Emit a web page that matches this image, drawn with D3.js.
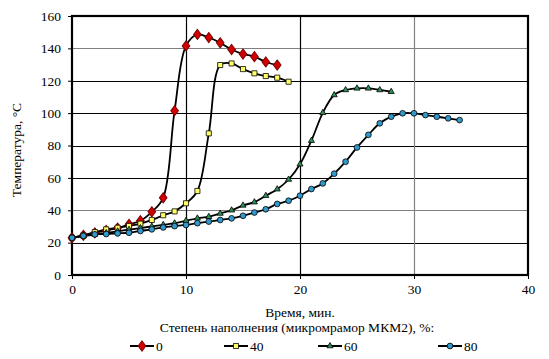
<!DOCTYPE html>
<html><head><meta charset="utf-8">
<script src="https://cdn.jsdelivr.net/npm/d3@7"></script>
<style>body{margin:0;background:#fff}svg{display:block;font-family:"Liberation Serif","Times New Roman","DejaVu Serif",serif}text{font-family:"Liberation Serif","Times New Roman","DejaVu Serif",serif}</style>
</head><body><svg id="c" width="549" height="359"></svg>
<script>
const xTicks = [0, 10, 20, 30, 40];
const yTicks = [0, 20, 40, 60, 80, 100, 120, 140, 160];
const seriesNames = ["0", "40", "60", "80"];
const t0 = [0,1,2,3,4,5,6,7,8,9,10,11,12,13,14,15,16,17,18];
const v0 = [23,24.5,26,27.5,29,31.3,33.5,39,47.7,101.5,141.5,148.6,146.7,143.4,139.3,136.5,134.9,131.6,129.7];
const t40 = [0,1,2,3,4,5,6,7,8,9,10,11,12,13,14,15,16,17,18,19];
const v40 = [23,24.5,26.5,28.2,29.2,30.3,31.7,34,36.9,39.3,44.3,51.9,87.5,129.7,130.7,127.2,124.6,122.9,121.9,119.4];
const t60 = [0,1,2,3,4,5,6,7,8,9,10,11,12,13,14,15,16,17,18,19,20,21,22,23,24,25,26,27,28];
const v60 = [23,24,25,26,27,28,29,30,31,32,33.5,35,36,38,40,43,45,49,53,59,68.4,83,100.2,111.2,114.3,115.3,115.3,114.3,113.2];
const t80 = [0,1,2,3,4,5,6,7,8,9,10,11,12,13,14,15,16,17,18,19,20,21,22,23,24,25,26,27,28,29,30,31,32,33,34];
const v80 = [23,24.2,25.1,25.3,25.7,26.1,27.2,28.2,29.4,30.2,30.9,32,33,34,35,36.6,38.6,40.6,43.9,45.9,49,53.1,56.6,62.6,70,78.8,86.6,93.7,97.8,99.9,99.9,98.8,97.8,96.8,95.7];

const series = [
  {name: seriesNames[0], t: t0, v: v0, fill: "#d40000", shape: "diamond"},
  {name: seriesNames[1], t: t40, v: v40, fill: "#ffff66", shape: "square"},
  {name: seriesNames[2], t: t60, v: v60, fill: "#2f8f5a", shape: "triangle"},
  {name: seriesNames[3], t: t80, v: v80, fill: "#3399cc", shape: "circle"}
];

const FONT = '"Liberation Serif", "Times New Roman", "DejaVu Serif", serif';
const svg = d3.select("#c");
const L = 72, R = 528, T = 16, B = 275;
const x = d3.scaleLinear().domain([0, 40]).range([L, R]);
const y = d3.scaleLinear().domain([0, 160]).range([B, T]);

// grid
const grayY = [140, 40], grayX = [30];
svg.append("g").selectAll("line").data(yTicks.filter(d => d > 0 && d < 160)).join("line")
  .attr("x1", L).attr("x2", R).attr("y1", d => Math.round(y(d)) + 0.5).attr("y2", d => Math.round(y(d)) + 0.5)
  .attr("stroke", d => grayY.includes(d) ? "#808080" : "#000").attr("stroke-width", 1.2);
svg.append("g").selectAll("line").data(xTicks.filter(d => d > 0 && d < 40)).join("line")
  .attr("y1", T).attr("y2", B).attr("x1", d => Math.round(x(d)) + 0.5).attr("x2", d => Math.round(x(d)) + 0.5)
  .attr("stroke", d => grayX.includes(d) ? "#808080" : "#000").attr("stroke-width", 1.2);

// axes
const fs = 13.5;
const ax = svg.append("g").attr("transform", `translate(0,${B})`)
  .call(d3.axisBottom(x).tickValues(xTicks).tickSize(4).tickSizeOuter(0).tickPadding(5));
const ay = svg.append("g").attr("transform", `translate(${L},0)`)
  .call(d3.axisLeft(y).tickValues(yTicks).tickSize(4).tickSizeOuter(0).tickPadding(7));
[ax, ay].forEach(g => {
  g.attr("font-family", FONT).attr("font-size", fs);
  g.select(".domain").remove();
  g.selectAll("line").attr("stroke", "#000");
  g.selectAll("text").attr("fill", "#000");
});

// frame
svg.append("rect").attr("x", L).attr("y", T).attr("width", R - L).attr("height", B - T)
  .attr("fill", "none").attr("stroke", "#000").attr("stroke-width", 2.2);

// lines
const line = d3.line().x(d => x(d[0])).y(d => y(d[1])).curve(d3.curveCatmullRom.alpha(0.5));
series.forEach(s => {
  const pts = s.t.map((t, i) => [t, s.v[i]]);
  svg.append("path").attr("d", line(pts)).attr("fill", "none").attr("stroke", "#000").attr("stroke-width", 1.8);
});

function marker(g, shape, fill, cx, cy) {
  let sym, size;
  if (shape === "diamond") { sym = d3.symbolDiamond; size = 30; }
  else if (shape === "square") { sym = d3.symbolSquare; size = 26; }
  else if (shape === "triangle") { sym = d3.symbolTriangle; size = 16; }
  else { sym = d3.symbolCircle; size = 26; }
  g.append("path").attr("d", d3.symbol(sym, size)())
    .attr("transform", `translate(${cx},${cy})` + (shape === "diamond" ? " scale(1.3,1)" : ""))
    .attr("fill", fill).attr("stroke", shape === "diamond" ? "#7a0000" : "#000").attr("stroke-width", 0.8);
}
series.forEach(s => {
  const g = svg.append("g");
  s.t.forEach((t, i) => marker(g, s.shape, s.fill, x(t), y(s.v[i])));
});

// titles
const txt = (xx, yy, s) => svg.append("text").attr("x", xx).attr("y", yy).attr("text-anchor", "middle")
  .attr("font-size", fs).attr("font-family", FONT).text(s);
txt(300, 317, "Время, мин.");
txt(297, 332, "Степень наполнения (микромрамор МКМ2), %:");
svg.append("text").attr("transform", "translate(21,150) rotate(-90)").attr("text-anchor", "middle")
  .attr("font-size", fs).attr("font-family", FONT).text("Температура, °С");

// legend
const legX = [142, 236, 330, 450];
series.forEach((s, i) => {
  const g = svg.append("g");
  const cx = legX[i], cy = 346;
  g.append("line").attr("x1", cx - 12).attr("x2", cx + 12).attr("y1", cy).attr("y2", cy).attr("stroke", "#000").attr("stroke-width", 2);
  marker(g, s.shape, s.fill, cx, cy);
  g.append("text").attr("x", cx + 14).attr("y", cy + 4.5).attr("font-size", fs).attr("font-family", FONT).text(s.name);
});
</script></body></html>
